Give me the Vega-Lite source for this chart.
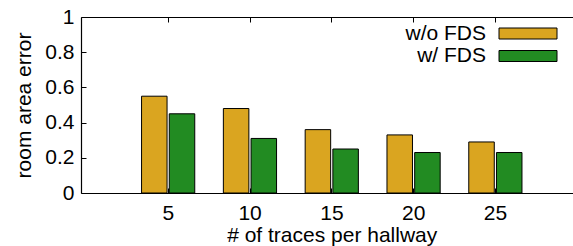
{
  "$schema": "https://vega.github.io/schema/vega-lite/v6.json",
  "width": 492,
  "height": 176,
  "autosize": "none",
  "padding": {"left": 81, "top": 17, "right": 0, "bottom": 53},
  "config": {
    "view": {"stroke": null},
    "font": "Liberation Sans",
    "axis": {"grid": false, "domainColor": "#000", "tickColor": "#000", "labelColor": "#000", "titleColor": "#000", "labelFont": "Liberation Sans", "titleFont": "Liberation Sans", "labelFontSize": 21, "titleFontSize": 21, "titleFontWeight": "normal", "tickSize": -5, "domainWidth": 1.2, "tickWidth": 1}
  },
  "data": {
    "values": [
      {"traces": 5, "series": "w/o FDS", "error": 0.55},
      {"traces": 10, "series": "w/o FDS", "error": 0.48},
      {"traces": 15, "series": "w/o FDS", "error": 0.36},
      {"traces": 20, "series": "w/o FDS", "error": 0.33},
      {"traces": 25, "series": "w/o FDS", "error": 0.29},
      {"traces": 5, "series": "w/ FDS", "error": 0.45},
      {"traces": 10, "series": "w/ FDS", "error": 0.31},
      {"traces": 15, "series": "w/ FDS", "error": 0.25},
      {"traces": 20, "series": "w/ FDS", "error": 0.23},
      {"traces": 25, "series": "w/ FDS", "error": 0.23}
    ]
  },
  "encoding": {
    "y": {"field": "error", "type": "quantitative", "scale": {"domain": [0, 1], "nice": false},
      "axis": {"title": "room area error", "values": [0, 0.2, 0.4, 0.6, 0.8, 1], "format": ".1~f", "labelPadding": 12, "titlePadding": 10}},
    "color": {"field": "series", "type": "nominal",
      "scale": {"domain": ["w/o FDS", "w/ FDS"], "range": ["#daa520", "#228b22"]},
      "legend": {"title": null, "orient": "none", "legendX": 436.5, "legendY": 6, "padding": 0,
        "symbolType": "M-5.8,-1.1H5.8V1.1H-5.8Z", "symbolSize": 100, "symbolStrokeColor": "#000", "symbolStrokeWidth": 1, "symbolOpacity": 1,
        "labelAlign": "right", "labelOffset": -52.5, "labelFontSize": 21, "labelFont": "Liberation Sans", "labelColor": "#000", "rowPadding": 0.5, "labelLimit": 200}}
  },
  "layer": [
    {
      "transform": [{"filter": "datum.series === 'w/o FDS'"}],
      "mark": {"type": "bar", "width": 25.5, "xOffset": -13.5, "stroke": "#000", "strokeWidth": 1},
      "encoding": {
        "x": {"field": "traces", "type": "quantitative", "scale": {"domain": [0, 29.46], "nice": false, "zero": false},
          "axis": {"orient": "bottom", "title": "# of traces per hallway", "values": [5, 10, 15, 20, 25], "labelPadding": 14, "titlePadding": 1, "titleX": 250.7}}
      }
    },
    {
      "transform": [{"filter": "datum.series === 'w/ FDS'"}],
      "mark": {"type": "bar", "width": 25.5, "xOffset": 14.2, "stroke": "#000", "strokeWidth": 1},
      "encoding": {
        "x": {"field": "traces", "type": "quantitative",
          "axis": {"orient": "top", "title": null, "labels": false, "values": [5, 10, 15, 20, 25]}}
      }
    }
  ],
  "resolve": {"axis": {"x": "independent"}}
}
